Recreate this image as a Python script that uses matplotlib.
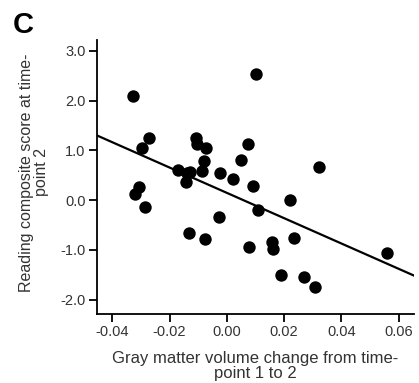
import numpy as np
import matplotlib
matplotlib.use('Agg')
import matplotlib.pyplot as plt

plt.rcParams['font.family'] = ['Liberation Sans', 'DejaVu Sans']

# gray matter change (x) vs reading score (y)
gm_change = [-0.0329, 0.0101, -0.0273, -0.0295, -0.0308, -0.0322, -0.0287,
             -0.0169, -0.0140, -0.0128, -0.0142, -0.0108, -0.0103, -0.0072,
             -0.0079, -0.0086, -0.0023, 0.0023, 0.0050, 0.0075, 0.0092,
             0.0108, -0.0028, -0.0133, -0.0077, 0.0078, 0.0156, 0.0162,
             0.0220, 0.0233, 0.0321, 0.0189, 0.0270, 0.0308, 0.0559]
reading = [2.09, 2.53, 1.24, 1.04, 0.27, 0.12, -0.13,
           0.60, 0.55, 0.57, 0.36, 1.24, 1.13, 1.04,
           0.79, 0.59, 0.55, 0.42, 0.80, 1.13, 0.29,
           -0.19, -0.34, -0.66, -0.79, -0.95, -0.85, -0.98,
           0.00, -0.77, 0.66, -1.51, -1.54, -1.75, -1.06]
# regression line
fit_slope = -25.45
fit_icpt = 0.145
xticks = [-0.04, -0.02, 0.00, 0.02, 0.04, 0.06]
yticks = [-2.0, -1.0, 0.0, 1.0, 2.0, 3.0]

fig = plt.figure(figsize=(4.19, 3.83), dpi=100)
ax = fig.add_axes([0.231, 0.180, 0.757, 0.716])

ax.scatter(gm_change, reading, s=80, color='black', zorder=3, linewidths=0)

xlim = (-0.0454, 0.0653)
lx = np.array(xlim)
ax.plot(lx, fit_slope * lx + fit_icpt, color='black', lw=1.6, zorder=2)

ax.set_xlim(*xlim)
ax.set_ylim(-2.29, 3.22)
ax.set_xticks(xticks)
ax.set_xticklabels(['%.2f' % t for t in xticks])
ax.set_yticks(yticks)
ax.set_yticklabels(['%.1f' % t for t in yticks])
for s in ['top', 'right']:
    ax.spines[s].set_visible(False)
for s in ['left', 'bottom']:
    ax.spines[s].set_linewidth(1.3)
ax.tick_params(length=6, width=1.3, labelsize=10.5, colors='black', labelcolor='#333333', pad=2)

# axis titles placed by hand (two-line, tight)
fig.text(0.610, 0.044, 'Gray matter volume change from time-\npoint 1 to 2',
         fontsize=12, color='#333333', linespacing=1.0, ha='center', va='center')
fig.text(0.081, 0.550, 'Reading composite score at time-\npoint 2',
         fontsize=11.5, color='#333333', linespacing=0.95, ha='center', va='center',
         rotation=90)

fig.text(0.03, 0.915, 'C', fontsize=21, fontweight='bold')

fig.savefig('out.png', dpi=100)
